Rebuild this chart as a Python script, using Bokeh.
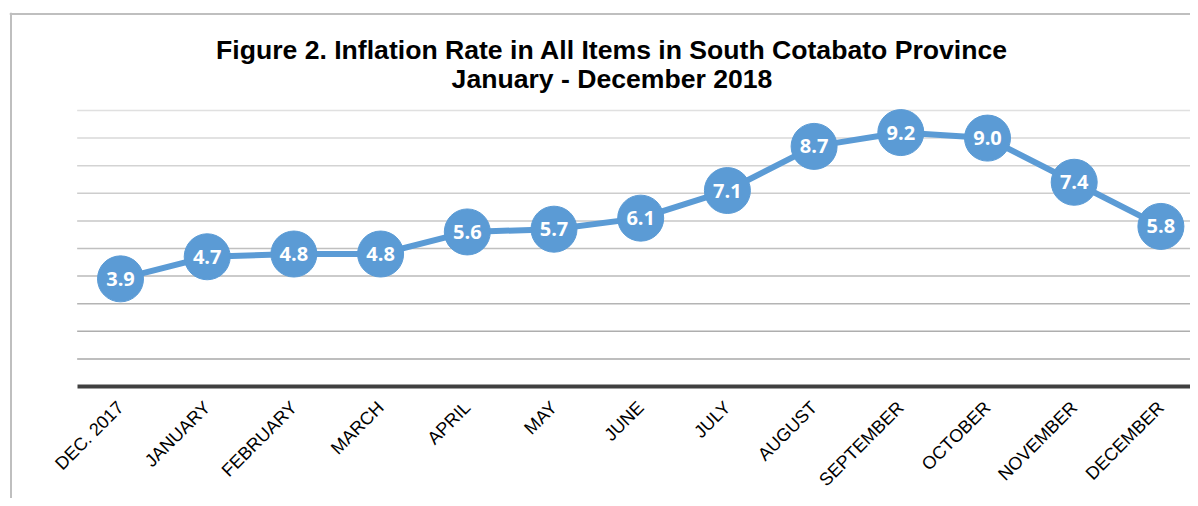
from bokeh.plotting import figure
from bokeh.models import (ColumnDataSource, Range1d, FixedTicker, Span, Label)
from bokeh.core.properties import value
from bokeh.embed import file_html
from bokeh.resources import INLINE
import math

categories = ["DEC. 2017", "JANUARY", "FEBRUARY", "MARCH", "APRIL", "MAY", "JUNE",
              "JULY", "AUGUST", "SEPTEMBER", "OCTOBER", "NOVEMBER", "DECEMBER"]
inflation = [3.9, 4.7, 4.8, 4.8, 5.6, 5.7, 6.1, 7.1, 8.7, 9.2, 9.0, 7.4, 5.8]
grid_levels = [1, 2, 3, 4, 5, 6, 7, 8, 9, 10]
title_line1 = "Figure 2. Inflation Rate in All Items in South Cotabato Province"
title_line2 = "January - December 2018"

# pixel geometry (layout only)
W, H = 1190, 498
ML, MT = 9, 12
XPX = 86.7          # px per category
YPX = 27.6          # px per unit
x0_px = 120         # canvas position of first category
zero_px = 386       # canvas position of value 0
x_start = (ML - x0_px) / XPX
x_end = x_start + (W - ML) / XPX
y_start = (zero_px - H) / YPX
y_end = (zero_px - MT) / YPX


def px_to_x(px):
    return x_start + (px - ML) / XPX


def px_to_y(py):
    return (zero_px - py) / YPX


idx = list(range(len(categories)))
src = ColumnDataSource(dict(x=idx, y=inflation, label=[f"{v:.1f}" for v in inflation]))

p = figure(width=W, height=H, output_backend="svg", toolbar_location=None,
           title_location=None, y_axis_location=None,
           x_range=Range1d(x_start, x_end), y_range=Range1d(y_start, y_end),
           min_border_left=ML, min_border_right=0, min_border_top=MT,
           min_border_bottom=0)
p.outline_line_color = None
p.background_fill_color = "white"
p.border_fill_color = "white"
p.xgrid.visible = False
p.ygrid.visible = False

# horizontal gridlines across the plot area (lighter towards the top)
n = len(grid_levels)
grid_colors = []
for i in range(n):
    c = int(168 + (i / (n - 1)) * (224 - 168))
    grid_colors.append(f"#{c:02x}{c:02x}{c:02x}")
p.segment(x0=[-0.5] * n, y0=grid_levels, x1=[x_end] * n, y1=grid_levels,
          line_color=grid_colors, line_width=1.5)

# chart-area border (left and top)
p.add_layout(Span(location=px_to_x(10.5), dimension="height",
                  line_color="#bfbfbf", line_width=2))
p.add_layout(Span(location=px_to_y(13.5), dimension="width",
                  line_color="#bfbfbf", line_width=2))

# titles
tx = px_to_x(611.5)
for txt, base in ((title_line1, 49), (title_line2, 78.5)):
    p.add_layout(Label(x=tx, y=px_to_y(base), text=txt, text_align="center",
                       text_baseline="alphabetic", text_font="Liberation Sans",
                       text_font_size="26.6px", text_font_style="bold",
                       text_color="black"))

xa = p.xaxis[0]
xa.fixed_location = 0
xa.bounds = (-0.5, x_end)
xa.ticker = FixedTicker(ticks=idx)
xa.major_label_overrides = {i: c for i, c in zip(idx, categories)}
xa.major_label_orientation = math.pi / 4
xa.axis_line_color = "#404040"
xa.axis_line_width = 4
xa.major_tick_line_color = None
xa.minor_tick_line_color = None
xa.major_label_text_font = "Liberation Sans"
xa.major_label_text_font_size = "18px"
xa.major_label_text_color = "black"
xa.major_label_standoff = 12

p.line("x", "y", source=src, line_color="#5b9bd5", line_width=6)
p.scatter("x", "y", source=src, size=46, fill_color="#5b9bd5", line_color="#5b9bd5")
p.text("x", "y", text="label", source=src, text_align="center", text_baseline="middle",
       text_color="white", text_font=value("Open Sans"), text_font_style="bold",
       text_font_size="20px")

open("out.html", "w").write(file_html(p, INLINE))
